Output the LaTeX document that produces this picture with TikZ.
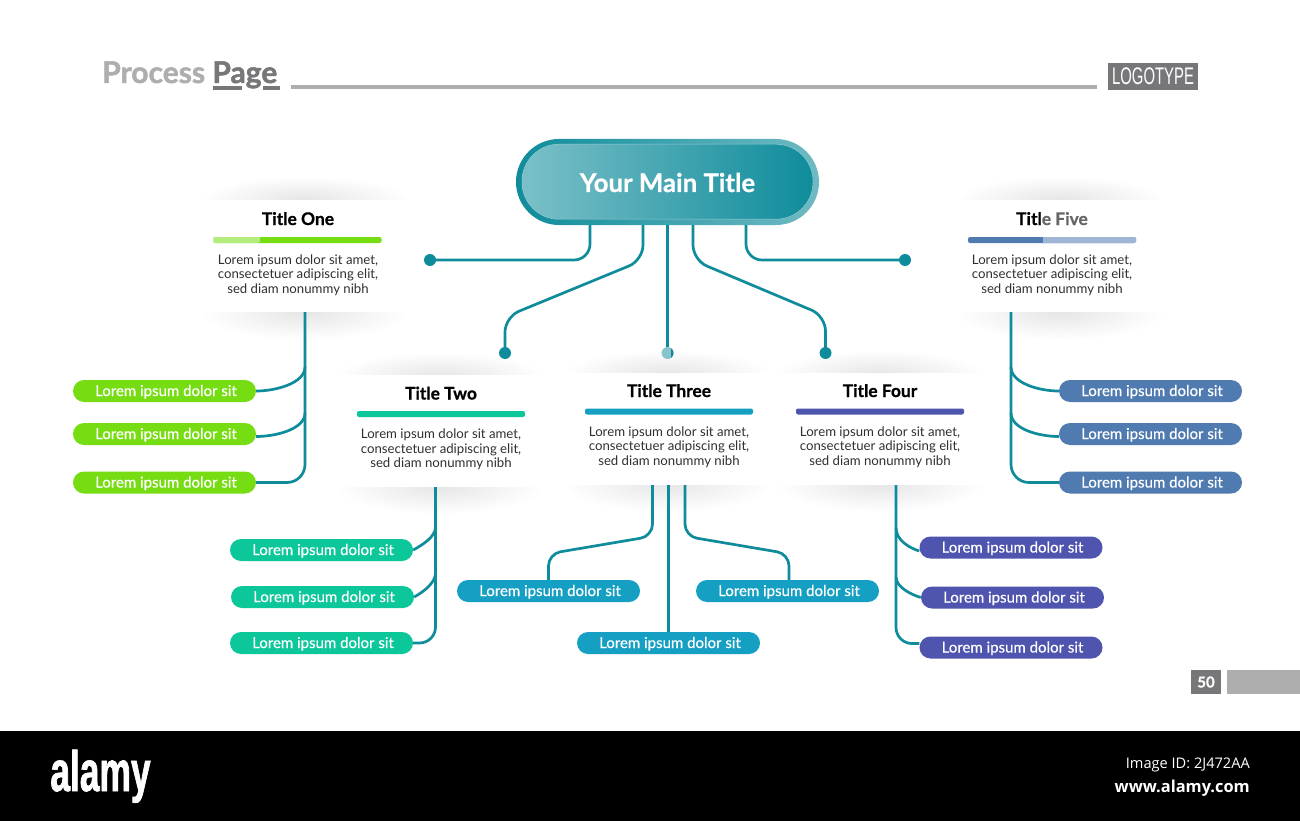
\documentclass[tikz,border=0pt]{standalone}
\usepackage{fontspec}
\setmainfont{Lato}
\newfontfamily\condf[FakeStretch=0.62,BoldFeatures={FakeBold=1.2}]{Liberation Sans}
\newfontfamily\notof{Open Sans}
\newfontfamily\heavyf[BoldFeatures={FakeBold=1.6}]{Lato}
\newfontfamily\titlef[BoldFeatures={FakeBold=0.8}]{Lato}
\newfontfamily\pillf[FakeBold=0.35]{Lato}
\usetikzlibrary{calc}
\definecolor{conn}{HTML}{0F8C9B}
\definecolor{cgreen}{HTML}{76DD12}
\definecolor{cmint}{HTML}{0CC79A}
\definecolor{cblue}{HTML}{159FC3}
\definecolor{cind}{HTML}{4F55AF}
\definecolor{csteel}{HTML}{4F7BB0}
\definecolor{glight}{HTML}{AEAEAE}
\definecolor{gdark}{HTML}{77777A}
\definecolor{bodyc}{HTML}{303030}
\tikzset{
  line/.style={draw=conn,line width=2.7pt,line cap=butt},
  pillbox/.style={rounded corners=11pt,minimum width=183pt,minimum height=22pt,inner sep=0pt,text=white,font=\pillf\fontsize{15}{16}\selectfont,text height=11pt,text depth=1pt},
  cardbox/.style={fill=white,minimum width=210pt,minimum height=112pt,inner sep=0pt},
  ctitle/.style={anchor=base,inner sep=0pt,font=\titlef\fontsize{17.4}{19}\bfseries\selectfont,text=black},
  cbody/.style={align=center,inner sep=0pt,text=bodyc,font=\fontsize{13.2}{14.5}\selectfont},
  cbar/.style={rounded corners=2pt,minimum width=168pt,minimum height=6pt,inner sep=0pt},
  dotn/.style={circle,fill=conn,minimum size=12pt,inner sep=0pt},
  shad/.style={inner color=black!10,outer color=white},
}
\newcommand{\LI}{\hspace*{3pt}Lorem ipsum dolor sit}
\newcommand{\LB}{Lorem ipsum dolor sit amet,\\consectetuer adipiscing elit,\\sed diam nonummy nibh}
\begin{document}
\begin{tikzpicture}[x=1pt,y=-1pt]
\useasboundingbox (0,0) rectangle (1300,821);
\fill[white] (0,0) rectangle (1300,821);
% footer
\node[fill=black,minimum width=1300pt,minimum height=90pt,inner sep=0pt] (foot) at (650,776) {};
\node[anchor=base,inner sep=0pt,text=white,font=\condf\fontsize{57}{57}\bfseries\selectfont] (alamy) at (100.5,791) {alamy};
\node[anchor=base east,inner sep=0pt,text=white,font=\notof\fontsize{14.6}{16}\selectfont] (imgid) at (1250,768) {Image ID: 2J472AA};
\node[anchor=base east,inner sep=0pt,text=white,font=\notof\fontsize{16.4}{18}\bfseries\selectfont] (www) at (1250,792) {www.alamy.com};
% header
\node[anchor=base west,inner sep=0pt,font=\heavyf\fontsize{30}{32}\bfseries\selectfont,text=glight] (hd) at (102,83) {Process \textcolor{gdark}{Page}};
\node[fill=gdark,minimum width=29pt,minimum height=4pt,inner sep=0pt] (ul1) at (227.5,88) {};
\node[fill=gdark,minimum width=17pt,minimum height=4pt,inner sep=0pt] (ul2) at (271.5,88) {};
\node[fill=glight,minimum width=806pt,minimum height=4pt,inner sep=0pt] (rule) at (694,87.5) {};
\node[fill=gdark,minimum width=90pt,minimum height=27.5pt,inner sep=0pt,text=white,font=\condf\fontsize{24}{26}\selectfont] (logo) at (1153,76.3) {LOGOTYPE};
\node[fill=gdark,minimum width=30pt,minimum height=24pt,inner sep=0pt,text=white,font=\titlef\fontsize{15}{16}\bfseries\selectfont] (pg) at (1206,682) {50};
\node[fill=glight,minimum width=73pt,minimum height=24pt,inner sep=0pt] (pgbar) at (1263.5,682) {};
% shadows
\foreach \cx/\ty/\by in {305/200/312,440/376/486,667.5/374/484,880/374/484,1060/200/312}{
  \shade[shad] (\cx,\ty) ellipse (105 and 24);
  \shade[shad] (\cx,\by) ellipse (105 and 28);
}
% cards
\node[cardbox] (c1) at (305,256) {};
\node[cardbox] (c2) at (440,431) {};
\node[cardbox,minimum width=205pt] (c3) at (667.5,429) {};
\node[cardbox] (c4) at (880,429) {};
\node[cardbox] (c5) at (1060,256) {};
% main
\node[left color=conn,right color=conn!60!white,rounded corners=43pt,minimum width=303pt,minimum height=86pt,inner sep=0pt] (mainout) at (667.5,182) {};
\node[left color=conn!55!white,right color=conn,rounded corners=37pt,minimum width=291pt,minimum height=75pt,inner sep=0pt,draw=conn!45!white,line width=0.5pt,text=white,font=\titlef\fontsize{25.8}{28}\bfseries\selectfont,text height=22pt,text depth=1.4pt] (main) at (667.5,181.7) {Your Main Title};
% dots
\node[dotn] (d1) at (430,260) {};
\node[dotn] (d2) at (505,353) {};
\node[dotn,fill=conn!50!white] (d3) at (667.5,353) {};
\node[dotn] (d4) at (825.5,353) {};
\node[dotn] (d5) at (905,260) {};
\begin{scope}
\clip (d3.center) circle (6);
\fill[conn] (670.5,345) rectangle (676,361);
\end{scope}
% card contents
\node[ctitle] (t1) at (298,225) {Title One};
\node[cbar,fill=cgreen] (b1) at (297.5,240) {};
\fill[cgreen!55!white,rounded corners=2pt] (213.5,237) -- (213.5,243) -- (260,243) [sharp corners] -- (260,237) -- cycle;
\node[cbody] (x1) at (298,275) {\LB};
\node[ctitle] (t2) at (441,399.5) {Title Two};
\node[cbar,fill=cmint] (b2) at (441,414) {};
\node[cbody] (x2) at (441,449.5) {\LB};
\node[ctitle] (t3) at (669,397) {Title Three};
\node[cbar,fill=cblue] (b3) at (669,411.5) {};
\node[cbody] (x3) at (669,447) {\LB};
\node[ctitle] (t4) at (880,397) {Title Four};
\node[cbar,fill=cind] (b4) at (880,411.5) {};
\node[cbody] (x4) at (880,447) {\LB};
\node[ctitle] (t5) at (1052,225) {Titl\textcolor{black!60}{e Five}};
\node[cbar,fill=csteel] (b5) at (1052,240) {};
\fill[csteel!55!white,rounded corners=2pt] (1043,237) [sharp corners] -- (1043,243) [rounded corners=2pt] -- (1136,243) -- (1136,237) [sharp corners] -- cycle;
\node[cbody] (x5) at (1052,275) {\LB};
% pills
\node[pillbox,fill=cgreen] (p1a) at (164.5,391) {\LI};
\node[pillbox,fill=cgreen] (p1b) at (164.5,434) {\LI};
\node[pillbox,fill=cgreen] (p1c) at (164.5,482.5) {\LI};
\node[pillbox,fill=cmint] (p2a) at (321.5,550) {\LI};
\node[pillbox,fill=cmint] (p2b) at (322.5,597) {\LI};
\node[pillbox,fill=cmint] (p2c) at (321.5,643) {\LI};
\node[pillbox,fill=cblue] (p3a) at (548.5,591) {\LI};
\node[pillbox,fill=cblue] (p3b) at (668.5,643) {\LI};
\node[pillbox,fill=cblue] (p3c) at (787.5,591) {\LI};
\node[pillbox,fill=cind] (p4a) at (1011,547.5) {\LI};
\node[pillbox,fill=cind] (p4b) at (1012.5,597.5) {\LI};
\node[pillbox,fill=cind] (p4c) at (1011,647.5) {\LI};
\node[pillbox,fill=csteel] (p5a) at (1150.5,391) {\LI};
\node[pillbox,fill=csteel] (p5b) at (1150.5,434) {\LI};
\node[pillbox,fill=csteel] (p5c) at (1150.5,482.5) {\LI};
% connectors from main
\draw[line,rounded corners=16pt] ([xshift=-77.5pt]mainout.south) |- (d1.center);
\draw[line,rounded corners=15pt] ([xshift=-24.5pt]mainout.south) -- ++(0,35) -- ($(d2.center)+(0,-36)$) -- (d2.center);
\draw[line] (mainout.south) -- (d3.north);
\draw[line,rounded corners=15pt] ([xshift=25.5pt]mainout.south) -- ++(0,35) -- ($(d4.center)+(0,-37)$) -- (d4.center);
\draw[line,rounded corners=16pt] ([xshift=78.5pt]mainout.south) |- (d5.center);
% card 1 tree
\coordinate (j1a) at (305,367);
\coordinate (j1b) at (305,413);
\draw[line,rounded corners=18pt] (c1.south) |- (p1c.east);
\draw[line] (j1a) .. controls +(0,16) and +(20,0) .. (p1a.east);
\draw[line] (j1b) .. controls +(0,16) and +(20,0) .. ([yshift=-2.5pt]p1b.east);
% card 2 tree
\coordinate (j2a) at (435.5,527);
\coordinate (j2b) at (435.5,573);
\draw[line,rounded corners=16pt] ([xshift=-4.5pt]c2.south) |- (p2c.east);
\draw[line] (j2a) .. controls +(0,10) and +(9,-5) .. (p2a.east);
\draw[line] (j2b) .. controls +(0,10) and +(9,-5) .. (p2b.east);
% card 3 tree
\draw[line] ([xshift=1pt]c3.south) -- (p3b.north);
\draw[line,rounded corners=12pt] ([xshift=-15pt]c3.south) -- ++(0,51) -- ($(p3a.north)+(0,-26)$) -- (p3a.north);
\draw[line,rounded corners=12pt] ([xshift=17.5pt]c3.south) -- ++(0,51) -- ($(p3c.north)+(1.5,-26)$) -- ([xshift=1.5pt]p3c.north);
% card 4 tree
\coordinate (j4a) at (896,528);
\coordinate (j4b) at (896,577);
\draw[line,rounded corners=16pt] ([xshift=16pt]c4.south) |- ([yshift=4pt]p4c.west);
\draw[line] (j4a) .. controls +(0,12) and +(-10,-3) .. ([yshift=-3.5pt]p4a.west);
\draw[line] (j4b) .. controls +(0,10) and +(-10,-3) .. (p4b.west);
% card 5 tree
\coordinate (j5a) at (1011,367);
\coordinate (j5b) at (1011,413);
\draw[line,rounded corners=18pt] ([xshift=-49pt]c5.south) |- (p5c.west);
\draw[line] (j5a) .. controls +(0,16) and +(-20,0) .. (p5a.west);
\draw[line] (j5b) .. controls +(0,16) and +(-20,0) .. ([yshift=-2.5pt]p5b.west);
\end{tikzpicture}
\end{document}
